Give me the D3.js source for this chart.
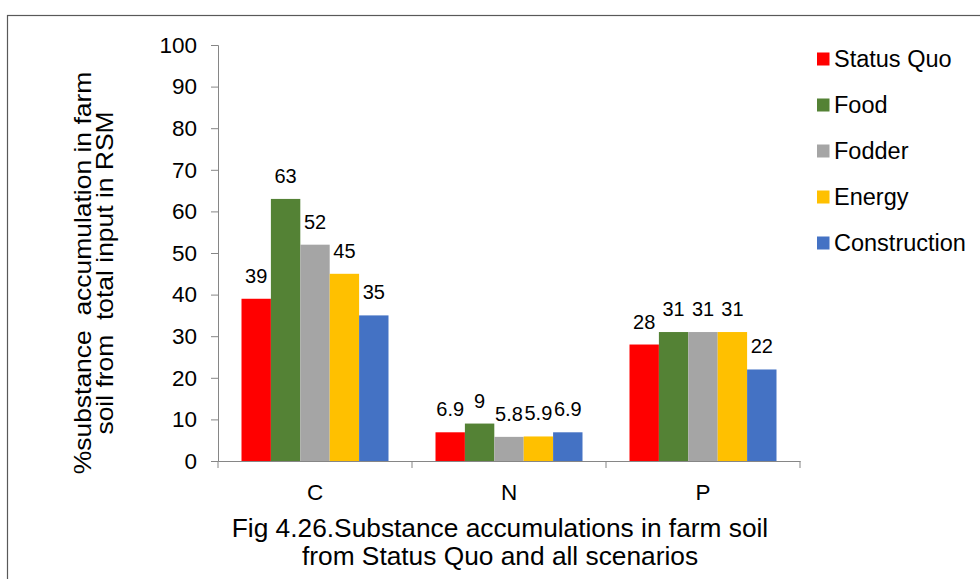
<!DOCTYPE html>
<html><head><meta charset="utf-8">
<script src="https://cdn.jsdelivr.net/npm/d3@7"></script>
<style>body{margin:0;background:#fff}svg{display:block;font-family:Arial,"Liberation Sans",sans-serif}</style>
</head><body><svg id="c" width="980" height="579"></svg>
<script>
const categories = ["C","N","P"];
const seriesNames = ["Status Quo","Food","Fodder","Energy","Construction"];
const seriesColors = ["#FF0000","#548235","#A5A5A5","#FFC000","#4472C4"];
const statusQuo = [39,6.9,28];
const food = [63,9,31];
const fodder = [52,5.8,31];
const energy = [45,5.9,31];
const construction = [35,6.9,22];
const seriesValues = [statusQuo,food,fodder,energy,construction];
const yTicks = [0,10,20,30,40,50,60,70,80,90,100];

const FONT = "Arial,'Liberation Sans',sans-serif";
const svg = d3.select("#c");
svg.append("rect").attr("x",7.5).attr("y",15.5).attr("width",990).attr("height",600)
  .attr("fill","#fff").attr("stroke","#595959").attr("stroke-width",1.2);

const x0 = d3.scaleBand().domain(categories).range([218,800]);
const x1 = d3.scaleBand().domain(seriesNames).range([23.5, x0.bandwidth()-23.5]);
const y = d3.scaleLinear().domain([0,100]).range([461,45]);

// bars
categories.forEach((c,ci)=>{
  seriesNames.forEach((s,si)=>{
    const v = seriesValues[si][ci];
    svg.append("rect").attr("x",x0(c)+x1(s)).attr("y",y(v)).attr("width",x1.bandwidth())
      .attr("height",y(0)-y(v)).attr("fill",seriesColors[si]);
  });
});
categories.forEach((c,ci)=>{
  seriesNames.forEach((s,si)=>{
    const v = seriesValues[si][ci];
    svg.append("text").attr("x",x0(c)+x1(s)+x1.bandwidth()/2).attr("y",y(v)-16)
      .attr("text-anchor","middle").attr("font-size",20).attr("fill","#000").text(v);
  });
});

// y axis
const ya = svg.append("g").attr("transform","translate(218,0)")
  .call(d3.axisLeft(y).tickValues(yTicks).tickSize(7).tickPadding(14));
ya.select(".domain").attr("stroke","#868686");
ya.selectAll(".tick line").attr("stroke","#868686");
ya.selectAll(".tick text").attr("font-size",22.5).attr("fill","#000").attr("font-family",FONT);

// x axis
const xa = svg.append("g").attr("transform","translate(0,461)")
  .call(d3.axisBottom(x0).tickSize(0).tickPadding(23));
xa.select(".domain").attr("stroke","#868686");
xa.selectAll(".tick text").attr("font-size",22.5).attr("fill","#000").attr("font-family",FONT);
const bounds = [218].concat(categories.map(c=>x0(c)+x0.bandwidth()));
svg.append("g").selectAll("line").data(bounds).join("line")
  .attr("x1",d=>d).attr("x2",d=>d).attr("y1",461).attr("y2",468).attr("stroke","#868686");

// y title
const yt = svg.append("text").attr("transform","translate(91,273) rotate(-90) scale(1.15,1)")
  .attr("text-anchor","middle").attr("font-size",23).attr("fill","#000");
yt.append("tspan").attr("x",0).attr("y",0).attr("xml:space","preserve").text("%substance  accumulation in farm");
yt.append("tspan").attr("x",0).attr("y",22.5).attr("xml:space","preserve").text("soil from  total input in RSM");

// caption
svg.append("text").attr("x",500).attr("y",537).attr("text-anchor","middle").attr("font-size",26.3).text("Fig 4.26.Substance accumulations in farm soil");
svg.append("text").attr("x",500).attr("y",565).attr("text-anchor","middle").attr("font-size",26.3).text("from Status Quo and all scenarios");

// legend
const lg = svg.append("g");
seriesNames.forEach((s,i)=>{
  const yy = 59 + i*46;
  lg.append("rect").attr("x",817).attr("y",yy-6.5).attr("width",12.5).attr("height",13).attr("fill",seriesColors[i]);
  lg.append("text").attr("x",834).attr("y",yy+8).attr("font-size",23.5).attr("fill","#000").text(s);
});
</script></body></html>
